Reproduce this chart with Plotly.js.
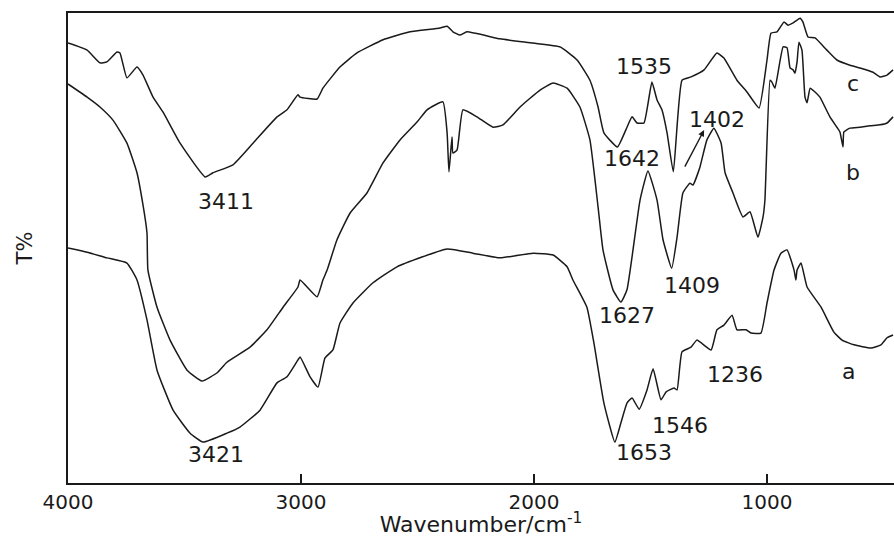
<!DOCTYPE html>
<html>
<head>
<meta charset="utf-8">
<script src="https://cdn.plot.ly/plotly-3.0.1.min.js"></script>
<style>
  html, body { margin: 0; padding: 0; background: #fff; }
  #chart { width: 894px; height: 537px; }
</style>
</head>
<body>
<div id="chart"></div>
<script>
// FTIR spectra, wavenumber (cm-1) vs transmittance (arbitrary offset units)
const wnA = [4000, 3918, 3833, 3747, 3704, 3661, 3618, 3549, 3476, 3421, 3318, 3262, 3176, 3103, 3060, 3013, 3004, 2961, 2927, 2897, 2863, 2833, 2777, 2691, 2588, 2373, 2262, 2146, 2004, 1918, 1858, 1833, 1773, 1743, 1700, 1653, 1627, 1601, 1579, 1549, 1515, 1489, 1455, 1433, 1399, 1386, 1365, 1326, 1301, 1240, 1215, 1185, 1150, 1129, 1090, 1069, 1026, 1000, 970, 940, 914, 884, 876, 871, 854, 828, 768, 713, 678, 627, 554, 511, 485, 459];
const tA = [50.0, 49.1, 47.9, 46.8, 43.2, 34.7, 24.0, 15.5, 10.6, 8.7, 10.6, 11.9, 15.5, 21.3, 22.6, 26.2, 26.8, 22.6, 20.4, 26.6, 28.3, 34.0, 38.3, 42.6, 46.0, 49.8, 48.9, 47.9, 48.9, 48.5, 46.0, 43.2, 37.4, 29.8, 17.0, 8.7, 12.8, 17.0, 18.1, 15.7, 19.8, 24.3, 17.7, 19.4, 20.2, 19.8, 27.9, 28.9, 30.4, 28.3, 32.6, 33.6, 35.7, 32.6, 32.6, 31.9, 31.9, 38.3, 45.3, 48.9, 49.6, 45.3, 43.2, 45.3, 46.8, 41.7, 37.4, 32.1, 30.4, 29.4, 28.7, 29.4, 30.9, 31.5];

const wnB = [4000, 3918, 3863, 3807, 3747, 3704, 3678, 3661, 3657, 3618, 3562, 3489, 3425, 3361, 3318, 3219, 3146, 3077, 3013, 3004, 2931, 2906, 2888, 2846, 2790, 2717, 2648, 2575, 2502, 2459, 2391, 2373, 2365, 2352, 2348, 2330, 2305, 2245, 2176, 2133, 2060, 1974, 1918, 1858, 1803, 1760, 1725, 1704, 1661, 1627, 1601, 1545, 1511, 1472, 1446, 1409, 1386, 1361, 1331, 1318, 1288, 1258, 1228, 1197, 1180, 1146, 1103, 1073, 1039, 1017, 1009, 987, 979, 966, 931, 914, 901, 888, 880, 871, 863, 850, 837, 828, 815, 794, 773, 730, 700, 687, 674, 670, 644, 601, 558, 515, 485, 459];
const tB = [84.9, 82.1, 80.0, 77.2, 72.3, 66.0, 59.1, 53.2, 45.3, 37.4, 30.4, 24.0, 21.7, 23.4, 25.7, 28.9, 32.6, 37.4, 41.7, 43.2, 39.6, 43.2, 45.3, 51.7, 57.4, 61.7, 68.1, 73.0, 76.8, 79.4, 81.1, 74.5, 66.2, 73.6, 70.2, 70.9, 79.4, 77.9, 75.7, 76.2, 80.0, 83.6, 85.1, 84.0, 80.0, 73.0, 58.7, 49.6, 41.1, 38.5, 41.1, 60.2, 66.4, 60.2, 51.7, 45.7, 52.3, 61.7, 63.8, 63.4, 67.2, 73.0, 75.5, 72.3, 66.0, 61.7, 56.6, 57.7, 52.3, 56.6, 60.2, 85.7, 85.3, 84.0, 92.8, 92.6, 88.3, 87.9, 87.2, 89.6, 93.8, 92.1, 82.1, 80.9, 84.0, 83.2, 82.1, 77.9, 75.7, 74.7, 71.5, 74.7, 75.5, 75.7, 76.0, 76.2, 76.6, 77.9];

const wnC = [4000, 3918, 3863, 3833, 3790, 3777, 3747, 3704, 3678, 3635, 3592, 3519, 3411, 3378, 3292, 3206, 3103, 3060, 3013, 3004, 2931, 2906, 2833, 2760, 2648, 2532, 2403, 2373, 2348, 2318, 2288, 2146, 2004, 1888, 1815, 1760, 1725, 1700, 1642, 1601, 1579, 1558, 1528, 1494, 1472, 1451, 1429, 1402, 1365, 1326, 1270, 1215, 1185, 1129, 1086, 1034, 1000, 983, 957, 927, 910, 888, 858, 846, 824, 794, 743, 700, 644, 601, 545, 515, 485, 459];
const tC = [93.6, 92.1, 89.4, 89.6, 91.7, 91.5, 86.2, 88.5, 86.8, 82.1, 78.9, 72.3, 65.1, 66.0, 67.7, 72.3, 77.9, 79.4, 82.6, 82.1, 81.7, 84.0, 88.5, 91.5, 94.3, 96.0, 96.8, 97.2, 96.0, 95.3, 96.0, 94.5, 93.6, 92.8, 90.0, 85.7, 80.0, 74.5, 71.5, 75.7, 77.9, 76.6, 76.6, 85.3, 81.5, 79.4, 74.5, 66.2, 85.7, 86.4, 87.9, 91.5, 90.4, 85.7, 83.2, 79.8, 90.0, 95.7, 96.0, 98.1, 97.4, 97.9, 98.9, 98.1, 94.9, 94.7, 92.1, 90.0, 88.9, 88.3, 87.4, 86.4, 86.8, 87.9];

// Peak labels and curve names
const labelText = ['3411', '3421', '1535', '1642', '1402', '1627', '1409', '1236', '1546', '1653', 'a', 'b', 'c'];
const labelWn   = [3322, 3365, 1528, 1579, 1215, 1601, 1322, 1137, 1373, 1528, 652, 631, 631];
const labelT    = [60.0, 6.0, 88.7, 69.1, 77.4, 35.7, 42.1, 23.0, 12.3, 6.4, 23.8, 66.0, 84.9];

const xTicks = [4000, 3000, 2000, 1000];

const FONT = 'DejaVu Sans, Arial, sans-serif';
const INK = '#1a1a1a';

const lineStyle = { color: INK, width: 1.5, shape: 'spline', smoothing: 0.4 };
const traces = [
  { x: wnA, y: tA, name: 'a', mode: 'lines', line: lineStyle },
  { x: wnB, y: tB, name: 'b', mode: 'lines', line: lineStyle },
  { x: wnC, y: tC, name: 'c', mode: 'lines', line: lineStyle }
];

const textFont = { family: FONT, size: 22, color: INK };

const annotations = labelText.map((t, i) => ({
  x: labelWn[i], y: labelT[i], xref: 'x', yref: 'y',
  text: t, showarrow: false, font: textFont,
  xanchor: 'center', yanchor: 'middle'
}));

// Arrow pointing at the 1402 band of curve c
annotations.push({
  x: 1270, y: 75.1, ax: 1356, ay: 67.0,
  xref: 'x', yref: 'y', axref: 'x', ayref: 'y',
  text: '', showarrow: true, arrowhead: 2, arrowsize: 0.9,
  arrowwidth: 1.4, arrowcolor: INK
});

const layout = {
  width: 894, height: 537,
  margin: { l: 68, r: 0, t: 13, b: 54 },
  paper_bgcolor: '#fff', plot_bgcolor: '#fff',
  showlegend: false,
  xaxis: {
    range: [4000, 455],
    tickvals: xTicks,
    ticktext: xTicks.map(String),
    ticks: 'inside', ticklen: 9, tickwidth: 1.5, tickcolor: INK,
    showline: true, linecolor: INK, linewidth: 2, mirror: true,
    showgrid: false, zeroline: false,
    tickfont: { family: FONT, size: 20, color: INK },
    title: { text: 'Wavenumber/cm<sup>-1</sup>', standoff: 3,
             font: { family: FONT, size: 22, color: INK } }
  },
  yaxis: {
    range: [0, 100],
    showticklabels: false, ticks: '',
    showline: true, linecolor: INK, linewidth: 2,
    showgrid: false, zeroline: false,
    title: { text: 'T%', standoff: 28, font: { family: FONT, size: 21, color: INK } }
  },
  annotations: annotations
};

Plotly.newPlot('chart', traces, layout, { staticPlot: true, displayModeBar: false });
</script>
</body>
</html>
